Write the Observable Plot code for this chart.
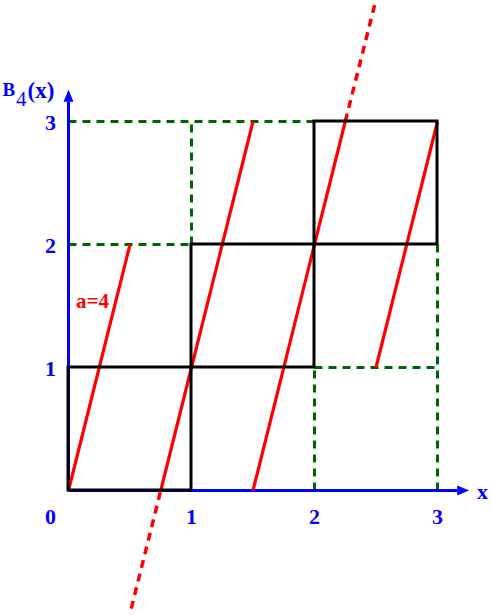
<!DOCTYPE html>
<html>
<head>
<meta charset="utf-8">
<script src="https://cdn.jsdelivr.net/npm/d3@7"></script>
<script src="https://cdn.jsdelivr.net/npm/@observablehq/plot@0.6"></script>
<style>
  html, body { margin: 0; padding: 0; background: white; }
  #chart svg { display: block; }
</style>
</head>
<body>
<div id="chart"></div>
<script>
// ---- data ----
const slopeLabel = "a=4";
const xTickValues = [1, 2, 3];
const yTickValues = [1, 2, 3];
const originLabel = "0";
const axisEnd = 3.16;
// solid red segments (x1,y1,x2,y2)
const redSolid = [
  {x1: 0, y1: 0, x2: 0.5, y2: 2},
  {x1: 0.75, y1: 0, x2: 1.5, y2: 3},
  {x1: 1.5, y1: 0, x2: 2.25, y2: 3},
  {x1: 2.5, y1: 1, x2: 3, y2: 3}
];
// dashed extensions
const redDashed = [
  {x1: 0.51, y1: -0.96, x2: 0.75, y2: 0},
  {x1: 2.25, y1: 3, x2: 2.49, y2: 3.95}
];
// diagonal unit squares (black)
const squares = [0, 1, 2];
// remaining grid edges (green dashed)
const greenEdges = [
  {x1: 0, y1: 3, x2: 2, y2: 3},
  {x1: 1, y1: 2, x2: 1, y2: 3},
  {x1: 0, y1: 2, x2: 1, y2: 2},
  {x1: 2, y1: 0, x2: 2, y2: 1},
  {x1: 2, y1: 1, x2: 3, y2: 1},
  {x1: 3, y1: 0, x2: 3, y2: 2}
];

const BLUE = "#0000ff", RED = "#ff0000", GREEN = "#006400";
const FONT = "Liberation Serif, Times New Roman, serif";

const arrowHead = {
  draw(ctx) {
    ctx.moveTo(0, -12);
    ctx.lineTo(5, 0);
    ctx.lineTo(-5, 0);
    ctx.closePath();
  }
};

const chart = Plot.plot({
  width: 491,
  height: 615,
  marginLeft: 68,
  marginRight: 54,
  marginTop: 121,
  marginBottom: 125,
  x: {domain: [0, 3], axis: null},
  y: {domain: [0, 3], axis: null},
  style: {background: "white", overflow: "visible"},
  marks: [
    Plot.link(greenEdges, {x1: "x1", y1: "y1", x2: "x2", y2: "y2", stroke: GREEN, strokeWidth: 3, strokeDasharray: "8,6", strokeDashoffset: 14}),
    // axes
    Plot.link([{x1: 0, y1: 0, x2: axisEnd, y2: 0}], {x1: "x1", y1: "y1", x2: "x2", y2: "y2", stroke: BLUE, strokeWidth: 3}),
    Plot.link([{x1: 0, y1: 0, x2: 0, y2: axisEnd}], {x1: "x1", y1: "y1", x2: "x2", y2: "y2", stroke: BLUE, strokeWidth: 3}),
    Plot.dot([{x: axisEnd, y: 0}], {x: "x", y: "y", symbol: arrowHead, fill: BLUE, stroke: "none", rotate: 90}),
    Plot.dot([{x: 0, y: axisEnd}], {x: "x", y: "y", symbol: arrowHead, fill: BLUE, stroke: "none"}),
    // red lines
    Plot.link(redDashed, {x1: "x1", y1: "y1", x2: "x2", y2: "y2", stroke: RED, strokeWidth: 3.5, strokeDasharray: "8,6"}),
    Plot.link(redSolid, {x1: "x1", y1: "y1", x2: "x2", y2: "y2", stroke: RED, strokeWidth: 3.2}),
    // black squares
    Plot.rect(squares, {x1: d => d, x2: d => d + 1, y1: d => d, y2: d => d + 1, fill: "none", stroke: "black", strokeWidth: 3}),
    // tick labels
    Plot.text(xTickValues, {x: d => d, y: 0, text: d => String(d), dy: 26, fill: BLUE, fontFamily: FONT, fontWeight: "bold", fontSize: 22}),
    Plot.text([originLabel], {x: 0, y: 0, text: d => d, dx: -18, dy: 26, fill: BLUE, fontFamily: FONT, fontWeight: "bold", fontSize: 22}),
    Plot.text(yTickValues, {x: 0, y: d => d, text: d => String(d), dx: -18, dy: 1, fill: BLUE, fontFamily: FONT, fontWeight: "bold", fontSize: 22}),
    // axis titles
    Plot.text(["x"], {x: 3, y: 0, text: d => d, dx: 45, dy: 1, fill: BLUE, fontFamily: FONT, fontWeight: "bold", fontSize: 22}),
    Plot.text(["B"], {x: 0, y: 3, text: d => d, dx: -66, dy: -32, textAnchor: "start", fill: BLUE, fontFamily: FONT, fontWeight: "bold", fontSize: 19}),
    Plot.text(["4"], {x: 0, y: 3, text: d => d, dx: -52.5, dy: -22, textAnchor: "start", fill: BLUE, fontFamily: FONT, fontWeight: "normal", fontSize: 21}),
    Plot.text(["(x)"], {x: 0, y: 3, text: d => d, dx: -41, dy: -31, textAnchor: "start", fill: BLUE, fontFamily: FONT, fontWeight: "bold", fontSize: 23}),
    // slope annotation
    Plot.text([slopeLabel], {x: 0, y: 1.5, text: d => d, dx: 24, dy: -5, fill: RED, fontFamily: FONT, fontWeight: "bold", fontSize: 21})
  ]
});
document.getElementById("chart").appendChild(chart);
</script>
</body>
</html>
